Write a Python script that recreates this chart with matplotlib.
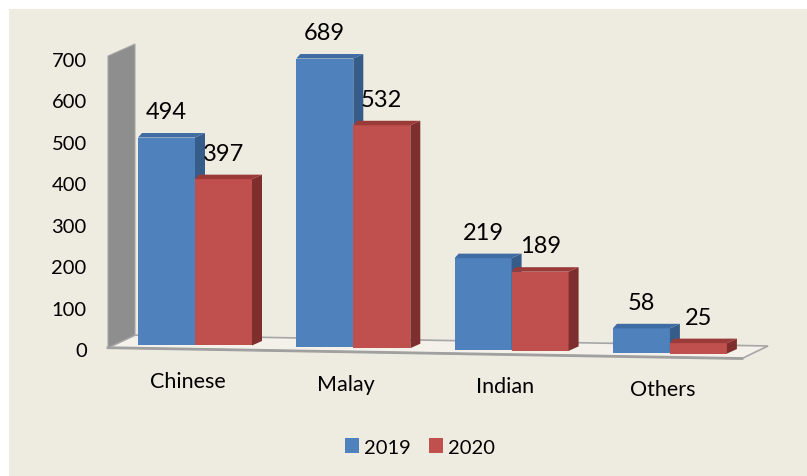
import matplotlib
matplotlib.use("Agg")
import matplotlib.pyplot as plt
from matplotlib.patches import Patch, Rectangle

plt.rcParams["font.family"] = ["Lato", "DejaVu Sans"]

# data
categories = ["Chinese", "Malay", "Indian", "Others"]
values_2019 = [494, 689, 219, 58]
values_2020 = [397, 532, 189, 25]
series_names = ["2019", "2020"]
y_ticks = [0, 100, 200, 300, 400, 500, 600, 700]

BG = "#EEEBE0"
FRONT = {"2019": "#4F81BD", "2020": "#C0504D"}
SIDE = {"2019": "#365C8A", "2020": "#7E2F2D"}
TOP = {"2019": "#3F6CA3", "2020": "#9A3B39"}

W, H = 807, 477
PX = 158.3          # pixels per category step
PY = 0.419          # pixels per value unit
X0_PX, Y0_PX = 195, 346
TILT = 2.7 / PY     # floor drops a little to the right
BAR_W = 57 / PX
DEPTH_X = 10 / PX
DEPTH_XL = 4 / PX
DEPTH_Y = 4.5 / PY


def base(x):
    return -TILT * x


def draw_bar(ax, x0, h, name, z):
    b = base(x0 + BAR_W / 2)
    x1 = x0 + BAR_W
    ax.bar(x0, h, BAR_W, bottom=b, align="edge", color=FRONT[name],
           edgecolor="none", zorder=z)
    ax.fill([x1, x1, x1 + DEPTH_X, x1 + DEPTH_X],
            [b, b + h, b + h + DEPTH_Y, b + DEPTH_Y],
            color=SIDE[name], lw=0, zorder=z)
    ax.fill([x0, x1, x1 + DEPTH_X, x0 + DEPTH_XL],
            [b + h, b + h, b + h + DEPTH_Y, b + h + DEPTH_Y],
            color=TOP[name], lw=0, zorder=z)


fig = plt.figure(figsize=(W / 100, H / 100), dpi=100)
fig.patch.set_facecolor("white")
fig.patches.append(Rectangle((9 / W, 0), 1, 1 - 10 / H, transform=fig.transFigure,
                             facecolor=BG, edgecolor="none", zorder=-10))

ax = fig.add_axes([0, 0, 1, 1])
ax.set_xlim(-X0_PX / PX, (W - X0_PX) / PX)
ax.set_ylim(-(H - Y0_PX) / PY, Y0_PX / PY)
ax.axis("off")
ax.patch.set_alpha(0)

# floor and side wall
fl, fr = (108 - X0_PX) / PX, (742 - X0_PX) / PX
bl, br = (135 - X0_PX) / PX, (768 - X0_PX) / PX
front_off, back_off = -10, 21
ax.fill([fl, fr, br, bl],
        [base(fl) + front_off, base(fr) + front_off, base(br) + back_off, base(bl) + back_off],
        facecolor="#F3F1EA", edgecolor="#A6A6A6", lw=1.2, zorder=1)
ax.plot([fl, fr], [base(fl) + front_off, base(fr) + front_off], color="#A0A0A0", lw=2, zorder=1)
ax.fill([fl, fl, bl, bl],
        [base(fl) + front_off, (Y0_PX - 57) / PY, (Y0_PX - 45) / PY, base(bl) + back_off],
        facecolor="#8E8E8E", edgecolor="#A8A8A8", lw=0.8, zorder=2)

for i, cat in enumerate(categories):
    for j, (name, vals) in enumerate(zip(series_names, [values_2019, values_2020])):
        x0 = i - BAR_W + j * BAR_W
        draw_bar(ax, x0, vals[i], name, z=3 + j)
        xc = x0 + BAR_W / 2
        ax.text(xc, base(xc) + vals[i] + 26 / PY, str(vals[i]), ha="center", va="center",
                fontsize=17, color="black", zorder=10)
    xl = i - 7 / PX
    ax.text(xl, base(xl) - 36 / PY, cat, ha="center", va="center",
            fontsize=15.5, color="black", zorder=10)

# value axis labels sit on the wall scale
TPY = 290 / 700
tax = fig.add_axes([95 / W, 0, 0.0001, 1])
tax.set_ylim(-(H - 350) / TPY, 350 / TPY)
tax.set_yticks(y_ticks)
tax.set_yticklabels([str(t) for t in y_ticks], fontsize=14.5)
tax.tick_params(axis="y", length=0, pad=6)
tax.set_xticks([])
for sp in tax.spines.values():
    sp.set_visible(False)
tax.patch.set_alpha(0)

handles = [Patch(facecolor=FRONT[n], edgecolor="none", label=n) for n in series_names]
fig.legend(handles=handles, loc="center", bbox_to_anchor=(420 / W, 1 - 448 / H), ncol=2,
           frameon=False, fontsize=14.5, handlelength=0.72, handleheight=0.72,
           handletextpad=0.25, columnspacing=0.9)

fig.savefig("out.png", dpi=100, facecolor=fig.get_facecolor())
